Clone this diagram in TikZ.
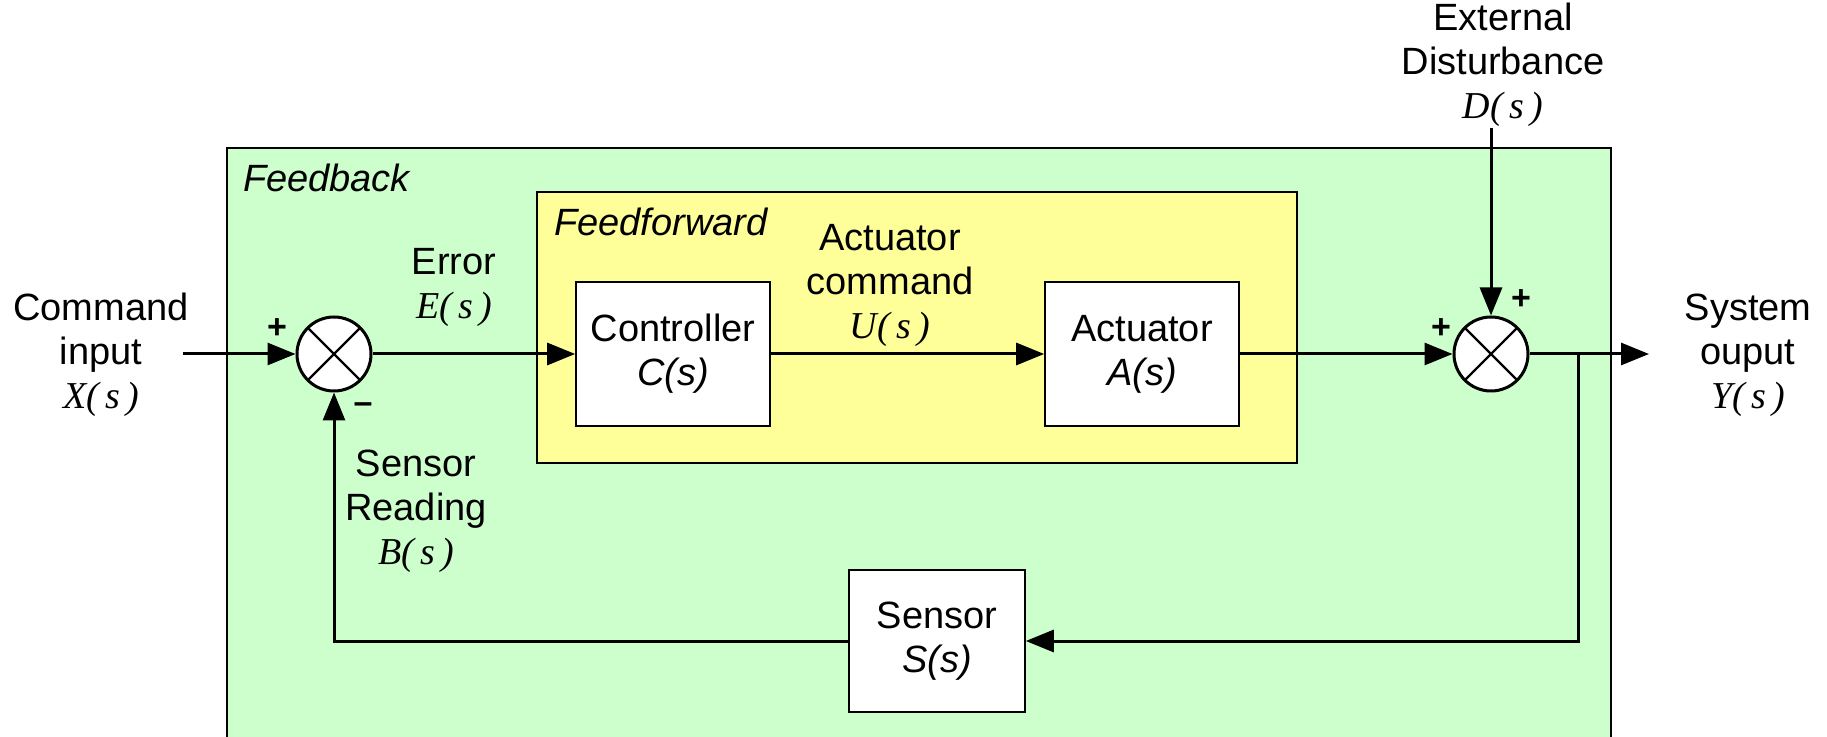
\documentclass[tikz,border=0pt]{standalone}
\usepackage{fontspec}
\setmainfont{Liberation Sans}
\newfontfamily\romfont{Liberation Serif}
\usetikzlibrary{arrows.meta}
\definecolor{fbgreen}{RGB}{204,255,204}
\definecolor{ffyellow}{RGB}{255,255,153}
\newcommand{\signal}[1]{{\romfont\itshape #1(\,s\,)}}
\tikzset{
  block/.style={draw, fill=white, line width=0.8pt, minimum width=97pt, minimum height=72pt, align=center},
  sumnode/.style={circle, draw, fill=white, line width=1.5pt, minimum size=37pt, inner sep=0pt,
    path picture={\draw[line width=1.2pt] (path picture bounding box.north west) -- (path picture bounding box.south east)
      (path picture bounding box.north east) -- (path picture bounding box.south west);}},
  label/.style={align=center},
  sign/.style={font=\fontsize{17}{17}\selectfont\bfseries, inner sep=0pt},
  link/.style={line width=1.5pt, -{Triangle[length=14pt,width=11pt]}},
  wire/.style={line width=1.5pt}
}
\begin{document}
\begin{tikzpicture}[x=0.5pt, y=-0.5pt, font=\fontsize{19}{22}\selectfont]
        \useasboundingbox (0,0) rectangle (1827,737);
        % feedback region (runs off the bottom)
        \fill[fbgreen] (227,148) rectangle (1611,737);
        \draw[line width=0.8pt] (227,737) |- (1611,148) -- (1611,737);
        \node[anchor=west] (fbtitle) at (236,178) {\itshape Feedback};
        % feedforward region
        \draw[line width=0.8pt, fill=ffyellow] (537,192) rectangle (1297,463);
        \node[anchor=west] (fftitle) at (547,222) {\itshape Feedforward};

        \node[block] (ctrl) at (673,354) {Controller\\ \itshape C(s)};
        \node[block] (act) at (1142,354) {Actuator\\ \itshape A(s)};
        \node[block, minimum width=88pt, minimum height=71pt] (sens) at (937,641) {Sensor\\ \itshape S(s)};
        \node[sumnode] (sumerr) at (334,354) {};
        \node[sumnode] (sumout) at (1491,354) {};

        \coordinate (cmdin) at (183,354);
        \coordinate (sysout) at (1649,354);
        \coordinate (branch) at (1578,354);
        \coordinate (distin) at (1491,128);

        \draw[link] (cmdin) -- (sumerr.west);
        \draw[link] (sumerr.east) -- (ctrl.west);
        \draw[link] (ctrl.east) -- (act.west);
        \draw[link] (act.east) -- (sumout.west);
        \draw[link] (sumout.east) -- (sysout);
        \draw[link] (distin) -- (sumout.north);
        \draw[link] (branch) |- (sens.east);
        \draw[link] (sens.west) -| (sumerr.south);

        \node[label] (cmdlbl) at (101,355) {Command\\input\\\signal{X}};
        \node[label] (errlbl) at (454,287) {Error\\\signal{E}};
        \node[label] (uclbl) at (890,285) {Actuator\\command\\\signal{U}};
        \node[label] (distlbl) at (1503,65) {External\\Disturbance\\\signal{D}};
        \node[label] (outlbl) at (1748,355) {System\\ouput\\\signal{Y}};
        \node[label] (readlbl) at (416,511) {Sensor\\Reading\\\signal{B}};

        \node[sign] (p1) at (277,329) {+};
        \node[sign] (m1) at (363,408) {--};
        \node[sign] (p2) at (1441,329) {+};
        \node[sign] (p3) at (1521,300) {+};
    \end{tikzpicture}
\end{document}
